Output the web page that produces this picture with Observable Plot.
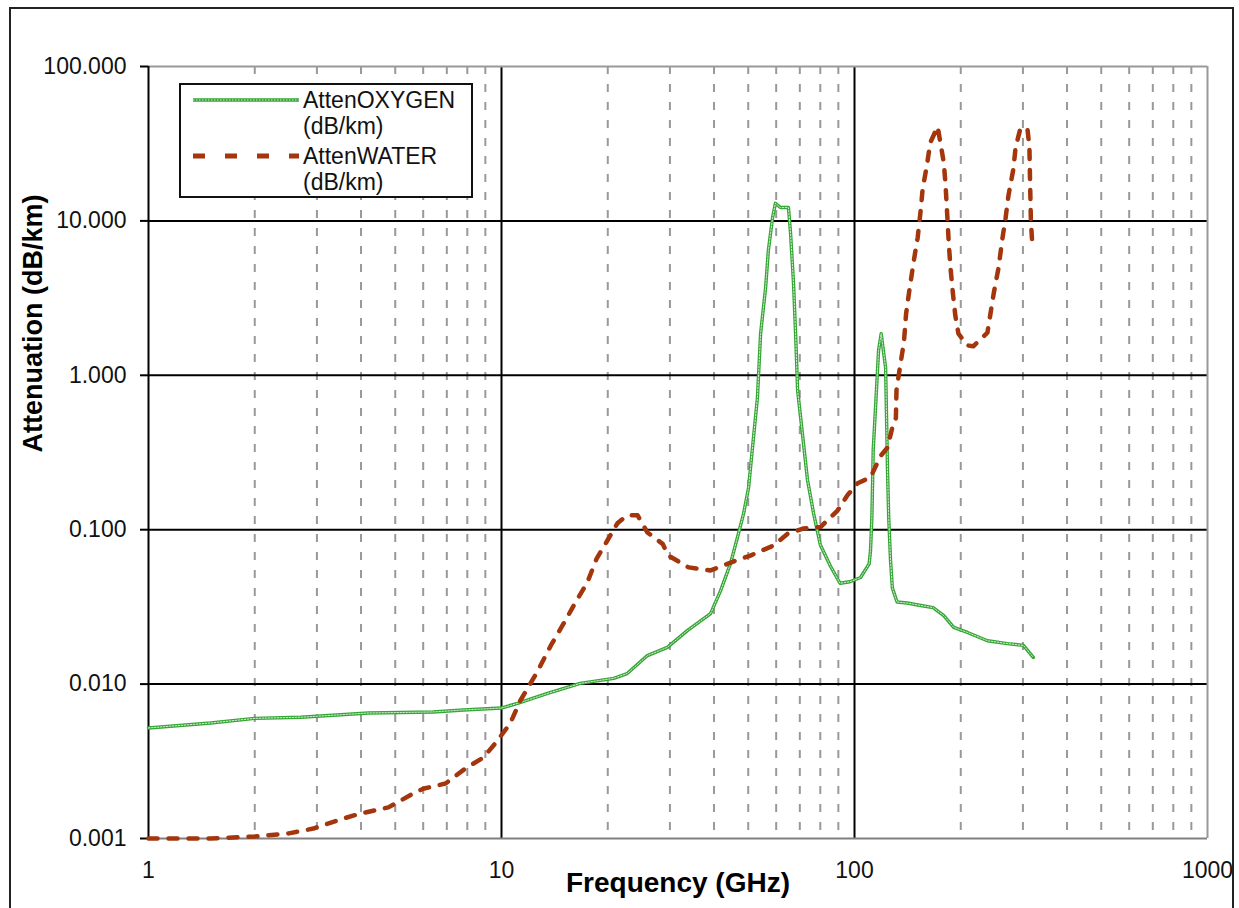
<!DOCTYPE html>
<html>
<head>
<meta charset="utf-8">
<script src="https://cdn.jsdelivr.net/npm/d3@7"></script>
<script src="https://cdn.jsdelivr.net/npm/@observablehq/plot@0.6"></script>
<style>
  html, body { margin: 0; padding: 0; background: #fff; }
  #wrap { position: relative; width: 1239px; height: 908px; overflow: hidden; font-family: "Liberation Sans", Arial, sans-serif; }
  #border { position: absolute; left: 9px; top: 7px; width: 1225px; height: 930px; border: 2px solid #222; box-sizing: border-box; pointer-events: none; }
  #legend { position: absolute; left: 179px; top: 83px; width: 294px; height: 115px; border: 2px solid #111; background: #fff; box-sizing: border-box; }
  #legend svg { position: absolute; left: 0; top: 0; }
</style>
</head>
<body>
<div id="wrap"><div id="border"></div></div>
<script>
// ---- data ----
const oxFreq = [1, 1.5, 2, 2.7, 4.2, 6.4, 7.8, 10, 11.1, 12.3, 13.5, 14.4, 16.7, 20.8, 22.7, 25.9, 29.5, 33.6, 39.1, 41.7, 44.5, 46.6, 48.5, 50.1, 53.1, 54.2, 56, 57, 58.6, 59.7, 61.7, 65, 65.9, 67.2, 68.1, 69, 73.6, 76.6, 80, 85.5, 91, 97, 104, 110, 111, 112, 113, 115, 117, 119, 122.5, 123.5, 124, 125, 126.5, 128, 132, 141, 154, 167, 179, 191, 209, 238, 271, 301, 321];
const oxAtten = [0.0052, 0.0056, 0.0060, 0.0061, 0.0065, 0.0066, 0.0068, 0.0070, 0.0075, 0.0081, 0.0087, 0.0091, 0.0101, 0.0109, 0.0117, 0.0153, 0.0173, 0.0222, 0.0286, 0.040, 0.060, 0.089, 0.127, 0.187, 0.72, 1.86, 3.7, 6.4, 10.5, 13.0, 12.2, 12.2, 8.3, 3.9, 1.86, 0.80, 0.21, 0.127, 0.08, 0.058, 0.045, 0.046, 0.049, 0.060, 0.073, 0.12, 0.33, 0.69, 1.45, 1.86, 1.12, 0.42, 0.25, 0.12, 0.063, 0.042, 0.034, 0.0335, 0.0323, 0.0313, 0.0278, 0.0233, 0.0216, 0.0191, 0.0183, 0.0178, 0.0149];

const waterFreq = [1, 1.5, 2, 2.5, 2.93, 3.5, 3.98, 4.78, 5.63, 6.0, 6.94, 7.9, 8.89, 9.74, 10.6, 11.3, 12.6, 13.8, 15.0, 16.2, 17.5, 18.6, 19.8, 21.3, 22.7, 24.3, 25.9, 28.6, 29.7, 33.9, 39.1, 46, 50.7, 59, 64.6, 71.8, 80.1, 89.5, 95.5, 102, 111, 118.5, 124, 128, 131, 131.5, 135, 138, 140, 143, 147, 151, 154, 156, 160, 164, 172, 179, 181, 183, 185, 187, 190, 193, 197, 209, 217, 238, 248, 256, 262, 268, 273, 282, 286, 295, 309, 313, 314, 315, 316, 319];
const waterAtten = [0.00100, 0.00100, 0.00103, 0.00108, 0.00116, 0.00133, 0.00145, 0.00159, 0.00196, 0.0021, 0.00227, 0.00284, 0.00335, 0.0043, 0.0056, 0.0078, 0.0119, 0.0178, 0.0247, 0.0338, 0.0455, 0.065, 0.0826, 0.11, 0.124, 0.124, 0.096, 0.081, 0.068, 0.057, 0.0545, 0.063, 0.068, 0.079, 0.094, 0.102, 0.104, 0.133, 0.167, 0.2, 0.218, 0.30, 0.34, 0.46, 0.53, 0.80, 1.19, 1.63, 2.5, 3.54, 5.4, 7.8, 11.7, 16.2, 22.2, 32.2, 40.8, 23.9, 17.5, 11.2, 7.1, 5.0, 3.4, 2.44, 1.86, 1.56, 1.54, 1.89, 3.4, 5.0, 7.5, 10.5, 14.6, 21.8, 29.9, 39.6, 39.6, 29.9, 20, 14.2, 10, 7.0];

const xTicks = [1, 10, 100, 1000];
const xTickLabels = ["1", "10", "100", "1000"];
const yTicks = [100, 10, 1, 0.1, 0.01, 0.001];
const yTickLabels = ["100.000", "10.000", "1.000", "0.100", "0.010", "0.001"];
const xMajorGrid = [10, 100];
const yMajorGrid = [10, 1, 0.1, 0.01];
const xMinorGrid = [2, 3, 4, 5, 6, 7, 8, 9, 20, 30, 40, 50, 60, 70, 80, 90, 200, 300, 400, 500, 600, 700, 800, 900];

const seriesNames = ["AttenOXYGEN", "AttenWATER"];
const seriesUnit = "(dB/km)";
const xTitle = "Frequency (GHz)";
const yTitle = "Attenuation (dB/km)";

const oxColor = "#35a535";
const waterColor = "#a3360c";

const ox = oxFreq.map((f, i) => ({f, v: oxAtten[i]}));
const water = waterFreq.map((f, i) => ({f, v: waterAtten[i]}));

const chart = Plot.plot({
  width: 1239,
  height: 908,
  marginLeft: 148,
  marginRight: 32,
  marginTop: 66,
  marginBottom: 70,
  style: {fontFamily: "'Liberation Sans', Arial, sans-serif", background: "transparent", overflow: "visible"},
  x: {type: "log", domain: [1, 1000], axis: null},
  y: {type: "log", domain: [0.001, 100], axis: null},
  marks: [
    Plot.ruleX(xMinorGrid, {stroke: "#999", strokeWidth: 2, strokeDasharray: "8,10"}),
    Plot.ruleX(xMajorGrid, {stroke: "#000", strokeWidth: 2}),
    Plot.ruleY(yMajorGrid, {stroke: "#000", strokeWidth: 2}),
    Plot.ruleY([100], {stroke: "#999", strokeWidth: 2}),
    Plot.ruleX([1000], {stroke: "#999", strokeWidth: 2}),
    Plot.ruleY([0.001], {stroke: "#808080", strokeWidth: 2}),
    Plot.ruleX([1], {stroke: "#000", strokeWidth: 2}),
    Plot.ruleY(yTicks, {x1: 1, x2: 1, insetLeft: -8, stroke: "#000", strokeWidth: 2}),
    Plot.text(yTicks, {x: 1, y: d => d, text: (d, i) => yTickLabels[i], textAnchor: "end", dx: -22, fontSize: 23, fill: "#111"}),
    Plot.text(xTicks, {x: d => d, y: 0.001, text: (d, i) => xTickLabels[i], dy: 32, fontSize: 23, fill: "#111"}),
    Plot.text([xTitle], {frameAnchor: "bottom", dy: 53, fontSize: 28, fontWeight: "bold", fill: "#000", style: "letter-spacing:1px"}),
    Plot.text([yTitle], {frameAnchor: "left", dx: -115, rotate: -90, fontSize: 27, fontWeight: "bold", fill: "#000"}),
    Plot.line(ox, {x: "f", y: "v", stroke: oxColor, strokeWidth: 3.4}),
    Plot.line(ox, {x: "f", y: "v", stroke: "#fff", strokeWidth: 1, strokeDasharray: "1.5,1.5", strokeOpacity: 0.8}),
    Plot.line(water, {x: "f", y: "v", stroke: waterColor, strokeWidth: 4.5, strokeDasharray: "9,11"})
  ]
});
document.getElementById("wrap").appendChild(chart);

// legend
const legend = document.createElement("div");
legend.id = "legend";
const ns = "http://www.w3.org/2000/svg";
const lsvg = document.createElementNS(ns, "svg");
lsvg.setAttribute("width", 294);
lsvg.setAttribute("height", 115);
lsvg.style.fontFamily = "'Liberation Sans', Arial, sans-serif";
const rows = [
  {name: seriesNames[0], color: oxColor, y: 15, dash: null, w: 3.4},
  {name: seriesNames[1], color: waterColor, y: 71, dash: "12,20", w: 5}
];
rows.forEach(r => {
  const ln = document.createElementNS(ns, "line");
  ln.setAttribute("x1", 12); ln.setAttribute("x2", 118);
  ln.setAttribute("y1", r.y); ln.setAttribute("y2", r.y);
  ln.setAttribute("stroke", r.color); ln.setAttribute("stroke-width", r.w);
  if (r.dash) ln.setAttribute("stroke-dasharray", r.dash);
  lsvg.appendChild(ln);
  if (!r.dash) {
    const ln2 = ln.cloneNode();
    ln2.setAttribute("stroke", "#fff"); ln2.setAttribute("stroke-width", 1);
    ln2.setAttribute("stroke-dasharray", "1.5,1.5"); ln2.setAttribute("stroke-opacity", 0.8);
    lsvg.appendChild(ln2);
  }
  [r.name, seriesUnit].forEach((t, k) => {
    const tx = document.createElementNS(ns, "text");
    tx.setAttribute("x", 122);
    tx.setAttribute("y", r.y + k * 26);
    tx.setAttribute("dy", "0.35em");
    tx.setAttribute("font-size", 23);
    tx.setAttribute("fill", "#111");
    tx.textContent = t;
    lsvg.appendChild(tx);
  });
});
legend.appendChild(lsvg);
document.getElementById("wrap").appendChild(legend);
</script>
</body>
</html>
